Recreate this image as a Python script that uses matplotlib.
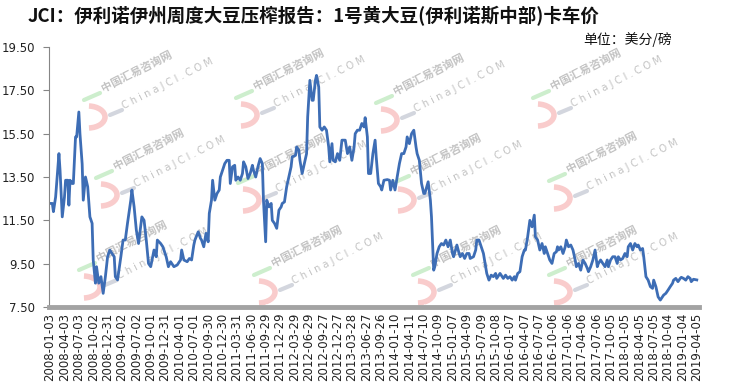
import numpy as np
import matplotlib
matplotlib.use("Agg")
from matplotlib import pyplot as plt
from matplotlib.patches import Arc

plt.rcParams['font.family'] = ['DejaVu Sans']
CJK = ['Noto Sans CJK SC', 'DejaVu Sans']

TITLE = 'JCI：伊利诺伊州周度大豆压榨报告：1号黄大豆(伊利诺斯中部)卡车价'
UNIT = '单位：美分/磅'

# weekly category index (one tick label every 13 weeks) and price, cents/lb
week = [0, 2, 3, 5, 8, 9, 11, 13, 14, 16, 17, 18, 20, 21, 23, 24, 26, 27, 29, 30,
        32, 34, 36, 38, 39, 41, 42, 44, 46, 48, 50, 52, 54, 56, 58, 59, 61, 64, 66, 68,
        70, 73, 74, 76, 78, 80, 83, 85, 87, 89, 91, 94, 96, 97, 100, 102, 105, 107, 109, 112,
        115, 118, 119, 121, 124, 126, 128, 130, 131, 134, 136, 137, 139, 141, 143, 144, 146, 147, 149, 151,
        153, 154, 156, 158, 160, 162, 163, 165, 167, 168, 170, 172, 174, 175, 177, 179, 181, 183, 184, 186,
        188, 190, 192, 193, 195, 196, 198, 200, 201, 203, 205, 207, 209, 210, 212, 214, 216, 218, 219, 222,
        223, 225, 226, 228, 230, 232, 233, 235, 237, 238, 240, 241, 243, 244, 246, 248, 250, 252, 253, 255,
        256, 258, 260, 262, 264, 266, 267, 269, 271, 273, 275, 276, 278, 280, 282, 284, 285, 287, 288, 290,
        292, 294, 295, 297, 299, 300, 302, 305, 307, 308, 310, 312, 314, 316, 318, 320, 322, 323, 325, 327,
        329, 331, 332, 334, 336, 338, 339, 342, 344, 345, 347, 348, 350, 352, 354, 356, 358, 360, 362, 364,
        365, 368, 370, 371, 373, 375, 377, 379, 380, 383, 385, 386, 388, 390, 392, 394, 395, 397, 399, 401,
        403, 404, 407, 409, 410, 412, 414, 416, 418, 420, 421, 423, 425, 427, 429, 430, 432, 434, 436, 438,
        439, 441, 443, 445, 447, 448, 450, 452, 454, 456, 458, 459, 460, 462, 464, 466, 467, 469, 471, 473,
        475, 476, 478, 480, 482, 484, 486, 487, 489, 491, 493, 495, 496, 498, 500, 502, 504, 505, 507, 509,
        511, 513, 514, 516, 518, 520, 522, 523, 525, 527, 529, 531, 532, 534, 536, 537, 539, 541, 543, 545,
        546, 548, 550, 552, 554, 555, 557, 559, 561, 563, 564, 566, 568, 570, 571, 573, 575, 577, 579, 580,
        582, 585]
price = [12.28, 12.28, 11.90, 12.58, 14.58, 13.80, 11.66, 12.58, 13.35, 13.35, 12.20, 13.35, 13.20, 13.20, 15.35, 15.35, 16.50, 15.50, 14.10, 12.43,
         13.50, 13.05, 11.66, 11.36, 9.67, 8.60, 9.36, 8.60, 8.90, 8.13, 8.90, 9.82, 10.13, 9.97, 9.82, 8.90, 8.75, 9.82, 10.59, 10.59,
         11.36, 12.43, 12.90, 12.12, 11.05, 10.43, 11.66, 11.50, 10.59, 9.51, 9.36, 10.13, 9.82, 10.59, 10.43, 10.28, 9.82, 9.36, 9.59, 9.36,
         9.44, 9.67, 10.13, 9.67, 9.59, 9.74, 9.67, 10.36, 10.59, 10.97, 10.67, 10.59, 10.28, 10.90, 10.51, 11.82, 12.43, 13.35, 12.43, 12.74,
         12.90, 13.50, 13.81, 14.12, 14.27, 14.27, 13.20, 13.97, 14.04, 13.35, 13.50, 13.35, 13.66, 14.20, 13.97, 13.43, 13.66, 14.04, 13.81, 13.50,
         13.97, 14.35, 14.12, 12.43, 10.51, 12.43, 12.12, 12.28, 11.50, 11.36, 11.13, 11.97, 12.12, 12.28, 12.35, 13.05, 13.50, 13.97, 14.43, 14.50,
         14.89, 14.74, 14.27, 13.66, 14.12, 14.58, 16.27, 17.96, 17.04, 17.04, 17.96, 18.19, 17.65, 15.81, 15.66, 15.81, 15.66, 14.89, 14.20, 15.04,
         14.27, 14.20, 14.58, 14.27, 15.20, 15.20, 15.20, 14.58, 14.89, 14.27, 14.89, 15.50, 15.66, 15.66, 15.97, 15.81, 16.24, 15.35, 13.66, 13.66,
         14.58, 15.20, 14.43, 13.20, 13.05, 12.90, 13.35, 13.38, 13.35, 12.90, 13.35, 12.90, 13.50, 14.12, 14.58, 14.58, 14.89, 15.35, 15.04, 15.50,
         15.66, 14.89, 14.58, 14.27, 13.20, 12.74, 12.74, 13.28, 12.43, 11.66, 9.20, 9.36, 9.97, 10.28, 10.43, 10.36, 10.59, 10.28, 10.59, 9.97,
         9.82, 10.36, 9.97, 9.82, 9.97, 9.74, 9.97, 9.97, 9.74, 9.82, 10.13, 10.59, 10.59, 10.28, 9.97, 9.36, 9.05, 8.74, 8.97, 8.90,
         9.05, 8.82, 9.05, 8.90, 8.82, 8.97, 8.82, 8.90, 8.74, 8.90, 8.74, 9.05, 9.13, 9.82, 10.13, 10.13, 10.74, 11.50, 11.20, 11.74,
         10.74, 10.59, 10.13, 10.43, 9.97, 10.28, 9.97, 9.67, 9.51, 9.97, 10.05, 10.28, 10.13, 10.28, 9.97, 10.28, 10.59, 10.28, 10.36, 10.13,
         9.67, 9.36, 9.51, 9.20, 9.67, 9.51, 9.28, 9.13, 9.36, 9.67, 10.13, 9.36, 9.51, 9.67, 9.51, 9.36, 9.67, 9.36, 9.67, 9.82,
         9.82, 9.51, 9.82, 9.67, 9.74, 9.97, 9.82, 10.28, 10.43, 10.13, 10.43, 10.28, 10.36, 10.13, 10.20, 9.82, 8.90, 8.74, 8.44, 8.36,
         8.74, 8.44, 7.97, 7.82, 7.97, 8.05, 8.13, 8.28, 8.44, 8.59, 8.74, 8.82, 8.67, 8.82, 8.87, 8.82, 8.74, 8.90, 8.82, 8.67,
         8.78, 8.75]

tick_labels = ['2008-01-03', '2008-04-03', '2008-07-03', '2008-10-02', '2008-12-31',
               '2009-04-02', '2009-07-02', '2009-10-01', '2009-12-31',
               '2010-04-01', '2010-07-01', '2010-09-30', '2010-12-30',
               '2011-03-31', '2011-06-30', '2011-09-29', '2011-12-29',
               '2012-03-29', '2012-06-29', '2012-09-27', '2012-12-27',
               '2013-03-28', '2013-06-27', '2013-09-26',
               '2014-01-10', '2014-04-11', '2014-07-10', '2014-10-09',
               '2015-01-07', '2015-04-09', '2015-07-09', '2015-10-08',
               '2016-01-07', '2016-04-07', '2016-07-07', '2016-10-06',
               '2017-01-06', '2017-04-06', '2017-07-06', '2017-10-05',
               '2018-01-05', '2018-04-05', '2018-07-05', '2018-10-04',
               '2019-01-04', '2019-04-05']
yticks = [7.5, 9.5, 11.5, 13.5, 15.5, 17.5, 19.5]

W, H = 729, 385
fig = plt.figure(figsize=(W / 100, H / 100), dpi=100)

# watermark layer (pixel coordinates), behind the chart
bg = fig.add_axes([0, 0, 1, 1], zorder=0)
bg.set_xlim(0, W)
bg.set_ylim(H, 0)
bg.axis('off')
marks = [(88, 117), (240, 115), (380, 120), (537, 115),
         (100, 195), (242, 200), (397, 200), (553, 198),
         (83, 287), (258, 292), (417, 292), (553, 292)]
for lx, ly in marks:
    bg.add_patch(Arc((lx, ly), 34, 22, theta1=-85, theta2=85, lw=4, color='#f9cccc'))
    bg.plot([lx - 4, lx + 12], [ly - 17, ly - 24], color='#cdeecd', lw=3, solid_capstyle='round')
    bg.plot([lx + 22, lx + 34], [ly - 2, ly - 7], color='#d3d6de', lw=3, solid_capstyle='round')
    bg.text(lx + 17, ly - 22, '中国汇易咨询网', family=CJK, fontsize=8, color='#c2c2c2',
            fontweight='bold', rotation=27, rotation_mode='anchor', ha='left', va='bottom')
    bg.text(lx + 37, ly - 6, 'C h i n a J C I . C O M', fontsize=7, color='#c2c2c2',
            rotation=27, rotation_mode='anchor', ha='left', va='bottom')

ax = fig.add_axes([49 / W, 1 - 307 / H, 650 / W, 260 / H], zorder=1)
ax.patch.set_alpha(0)
ax.plot(week, price, color='#3d6db5', lw=2.0, solid_joinstyle='round')

ax.set_xlim(-1, 587)
ax.set_ylim(7.5, 19.5)
ax.set_yticks(yticks)
ax.set_yticklabels(['%.2f' % v for v in yticks])
ax.set_xticks(np.arange(len(tick_labels)) * 13)
ax.set_xticklabels(tick_labels, rotation=90)

for s in ['top', 'right']:
    ax.spines[s].set_visible(False)
ax.spines['left'].set_color('#868686')
ax.spines['bottom'].set_color('#a3a3a3')
ax.spines['bottom'].set_linewidth(3.5)
ax.tick_params(axis='y', direction='out', length=4, width=0.8, color='#868686',
               labelsize=8.5, labelcolor='#222222', pad=6)
ax.tick_params(axis='x', direction='inout', length=4, width=1, color='#ffffff',
               labelsize=8.5, labelcolor='#222222', pad=2)

fig.text(28 / W, 1 - 16 / H, TITLE, family=CJK, fontsize=13.3, fontweight='bold',
         ha='left', va='center', color='#111111')
fig.text(672 / W, 1 - 40 / H, UNIT, family=CJK, fontsize=10,
         ha='right', va='center', color='#111111')

fig.savefig('out.png', dpi=100)
